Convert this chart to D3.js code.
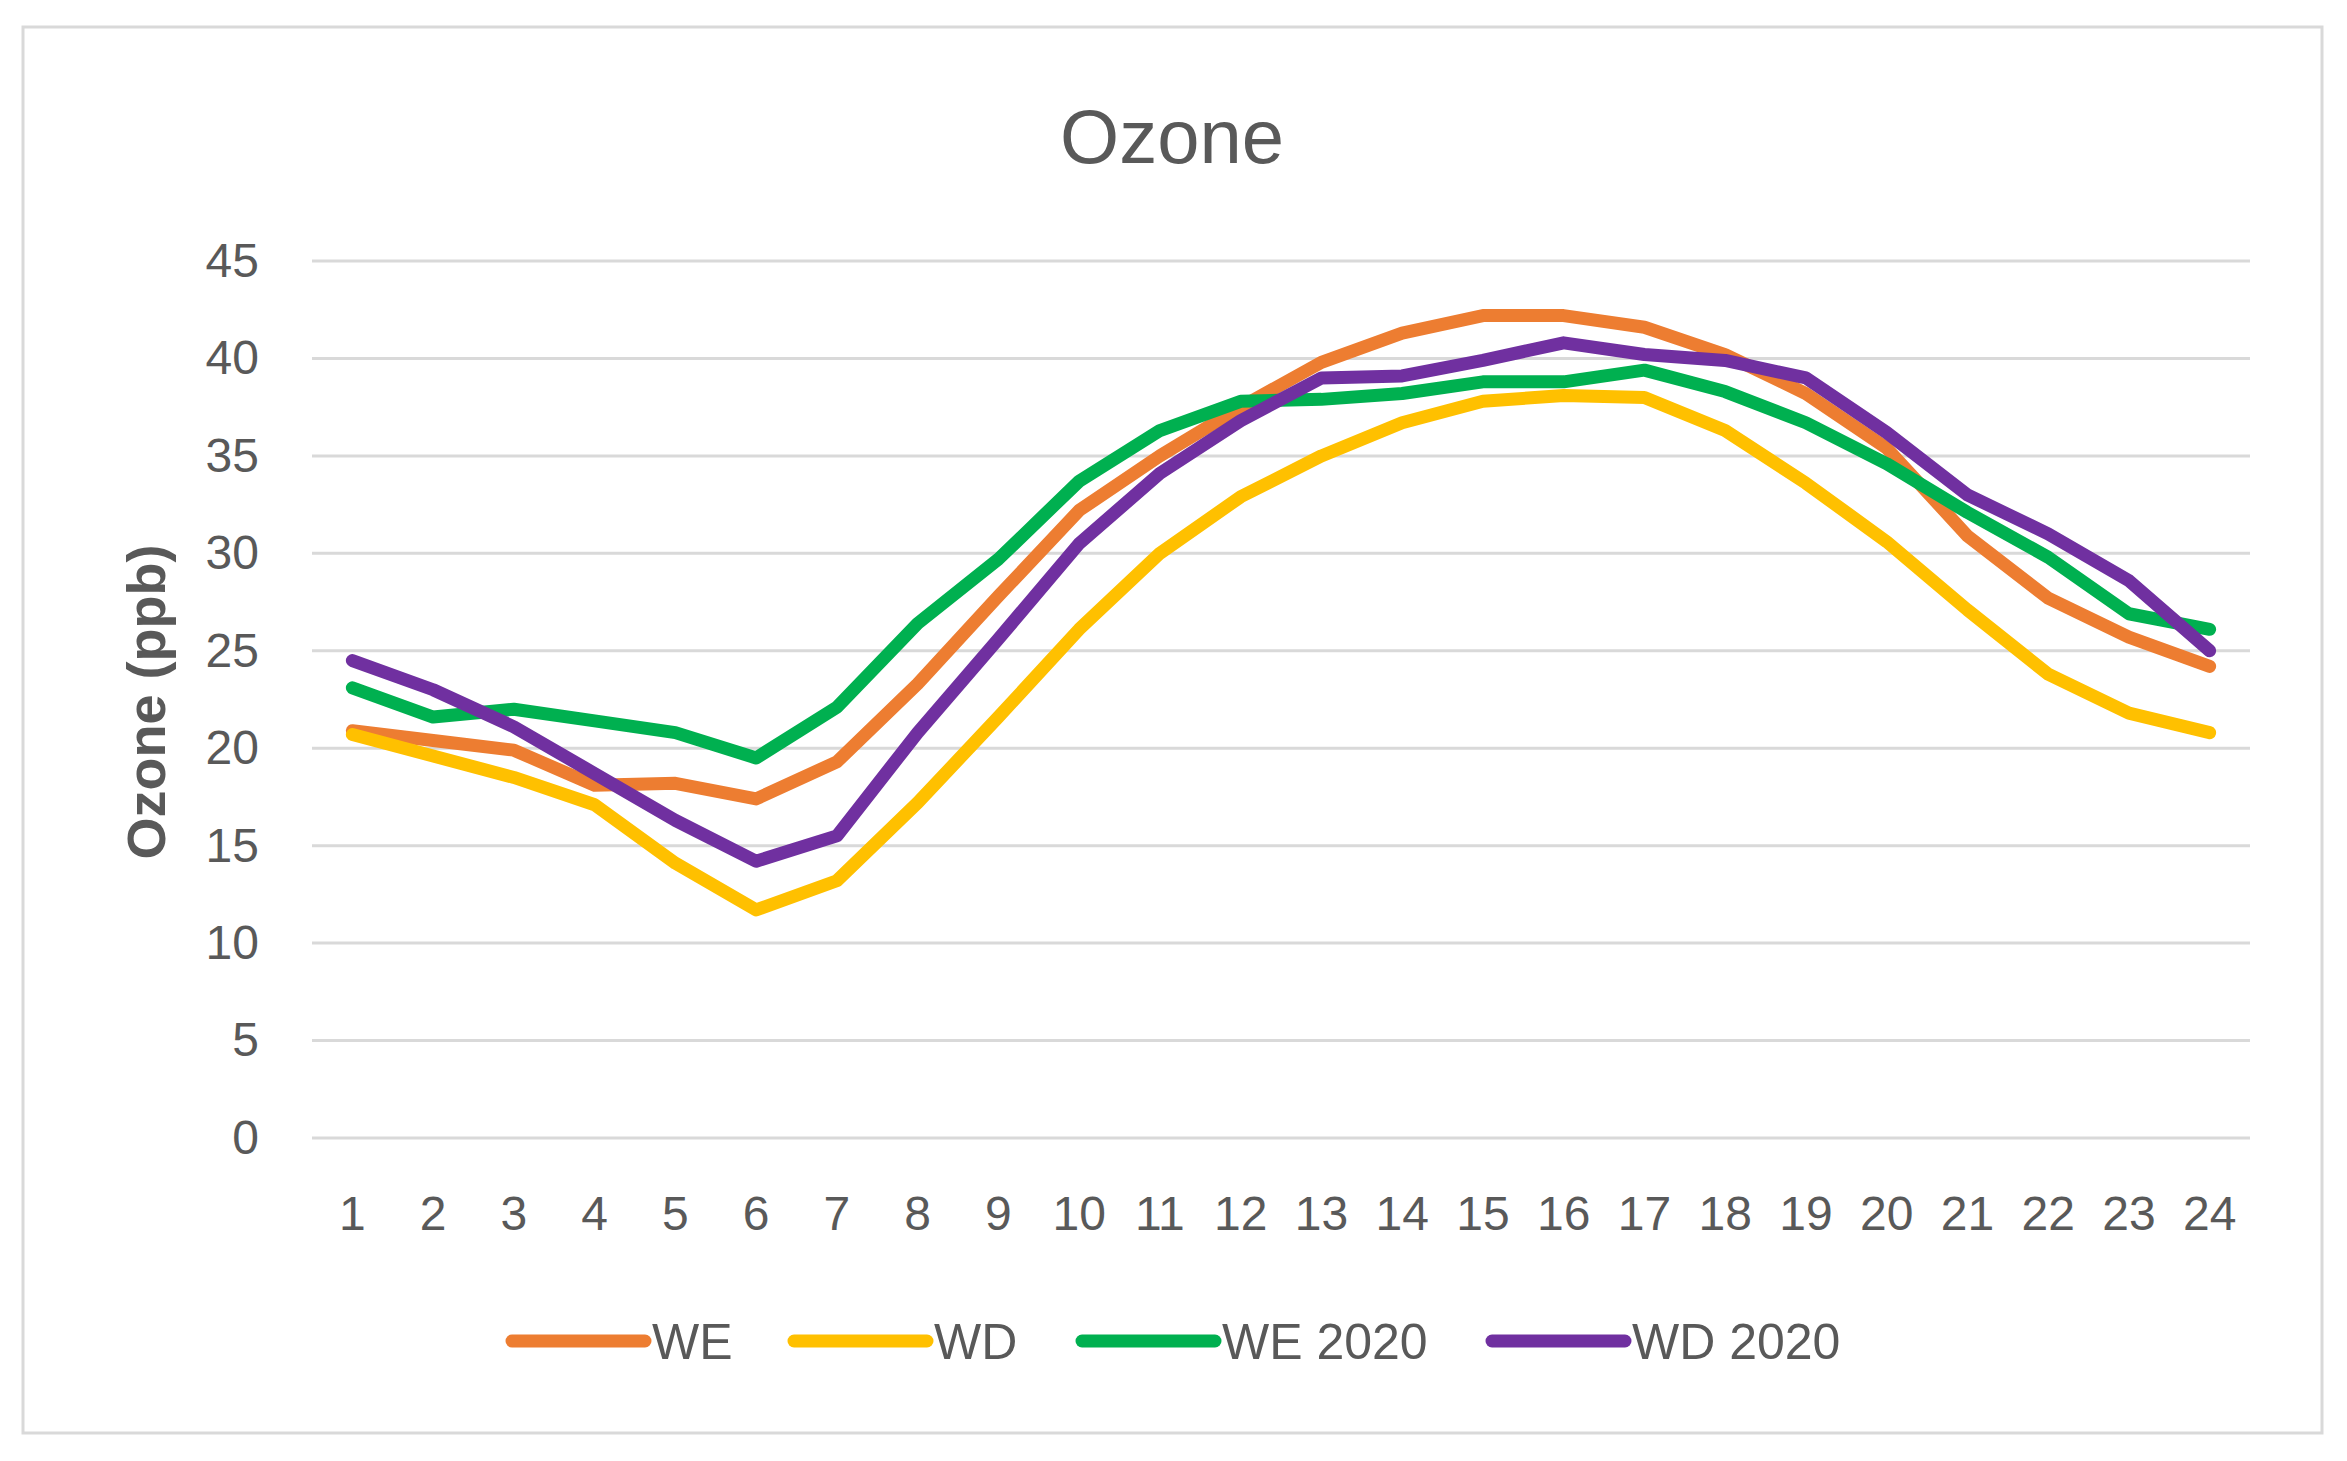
<!DOCTYPE html>
<html>
<head>
<meta charset="utf-8">
<script src="https://cdn.jsdelivr.net/npm/d3@7"></script>
<style>
  body { margin: 0; background: #fff; }
  text { font-family: "Liberation Sans", Arial, sans-serif; fill: #595959; }
</style>
</head>
<body>
<svg id="svg1" width="2347" height="1461"></svg>
<script>
// hours of the day
var hours = ['1','2','3','4','5','6','7','8','9','10','11','12','13','14','15','16','17','18','19','20','21','22','23','24'];

var seriesNames = ['WE', 'WD', 'WE 2020', 'WD 2020'];

var we = [20.9, 20.4, 19.9, 18.1, 18.2, 17.4, 19.3, 23.3, 27.8, 32.2, 35.0, 37.5, 39.8, 41.3, 42.2, 42.2, 41.6, 40.2, 38.2, 35.4, 30.9, 27.7, 25.7, 24.2];
var wd = [20.7, 19.6, 18.5, 17.1, 14.1, 11.7, 13.2, 17.2, 21.6, 26.1, 30.0, 32.9, 35.0, 36.7, 37.8, 38.1, 38.0, 36.3, 33.6, 30.6, 27.1, 23.8, 21.8, 20.8];
var we2020 = [23.1, 21.6, 22.0, 21.4, 20.8, 19.5, 22.1, 26.4, 29.7, 33.7, 36.3, 37.8, 37.9, 38.2, 38.8, 38.8, 39.4, 38.3, 36.7, 34.6, 32.1, 29.8, 26.9, 26.1];
var wd2020 = [24.5, 23.0, 21.1, 18.7, 16.3, 14.2, 15.5, 20.8, 25.6, 30.5, 34.1, 36.8, 39.0, 39.1, 39.9, 40.8, 40.2, 39.9, 39.0, 36.2, 33.0, 31.0, 28.6, 25.0];

var yTicks = [0, 5, 10, 15, 20, 25, 30, 35, 40, 45];

var colors = ['#ED7D31', '#FFC000', '#00B050', '#7030A0'];

var series = [we, wd, we2020, wd2020].map(function(vals, i){
    return { name: seriesNames[i], values: vals, color: colors[i] };
});

var svg = d3.select('svg');

// chart border
svg.append('rect')
    .attr('x', 23).attr('y', 27)
    .attr('width', 2299).attr('height', 1406)
    .attr('fill', '#fff')
    .attr('stroke', '#d9d9d9')
    .attr('stroke-width', 3);

var plotLeft = 312, plotRight = 2250, plotTop = 261, plotBottom = 1138;

var x = d3.scaleBand()
    .domain(hours)
    .range([plotLeft, plotRight]);

var y = d3.scaleLinear()
    .domain([0, 45])
    .range([plotBottom, plotTop]);

// gridlines
svg.append('g')
    .selectAll('line')
    .data(yTicks)
    .enter()
    .append('line')
    .attr('x1', plotLeft).attr('x2', plotRight)
    .attr('y1', function(d){ return y(d); })
    .attr('y2', function(d){ return y(d); })
    .attr('stroke', '#d9d9d9')
    .attr('stroke-width', 3);

// y axis labels
var yAxis = svg.append('g')
    .attr('transform', 'translate(259,0)')
    .call(d3.axisLeft(y).tickValues(yTicks).tickSize(0).tickPadding(0));
yAxis.select('.domain').remove();
yAxis.selectAll('text')
    .attr('font-size', 48)
    .attr('font-family', '"Liberation Sans", Arial, sans-serif')
    .attr('fill', '#595959');

// x axis labels
var xAxis = svg.append('g')
    .attr('transform', 'translate(0,' + plotBottom + ')')
    .call(d3.axisBottom(x).tickSize(0).tickPadding(0));
xAxis.select('.domain').remove();
xAxis.selectAll('text')
    .attr('y', 75)
    .attr('dy', '0.35em')
    .attr('font-size', 48)
    .attr('font-family', '"Liberation Sans", Arial, sans-serif')
    .attr('fill', '#595959');

// lines
var line = d3.line()
    .x(function(d, i){ return x(hours[i]) + x.bandwidth() / 2; })
    .y(function(d){ return y(d); });

svg.append('g')
    .selectAll('path')
    .data(series)
    .enter()
    .append('path')
    .attr('d', function(d){ return line(d.values); })
    .attr('fill', 'none')
    .attr('stroke', function(d){ return d.color; })
    .attr('stroke-width', 13)
    .attr('stroke-linejoin', 'round')
    .attr('stroke-linecap', 'round');

// title
svg.append('text')
    .attr('x', 1172).attr('y', 136)
    .attr('dy', '0.35em')
    .attr('text-anchor', 'middle')
    .attr('font-size', 76)
    .text('Ozone');

// y axis title
svg.append('text')
    .attr('transform', 'translate(146,702) rotate(-90)')
    .attr('dy', '0.35em')
    .attr('text-anchor', 'middle')
    .attr('font-size', 54)
    .attr('font-weight', 'bold')
    .text('Ozone (ppb)');

// legend
var legendX = [512, 794, 1082, 1492];
var legend = svg.append('g')
    .selectAll('g')
    .data(series)
    .enter()
    .append('g')
    .attr('transform', function(d, i){ return 'translate(' + legendX[i] + ',1341)'; });

legend.append('line')
    .attr('x1', 0).attr('x2', 133)
    .attr('y1', 0).attr('y2', 0)
    .attr('stroke', function(d){ return d.color; })
    .attr('stroke-width', 13)
    .attr('stroke-linecap', 'round');

legend.append('text')
    .attr('x', 140)
    .attr('dy', '0.35em')
    .attr('font-size', 50)
    .text(function(d){ return d.name; });
</script>
</body>
</html>
